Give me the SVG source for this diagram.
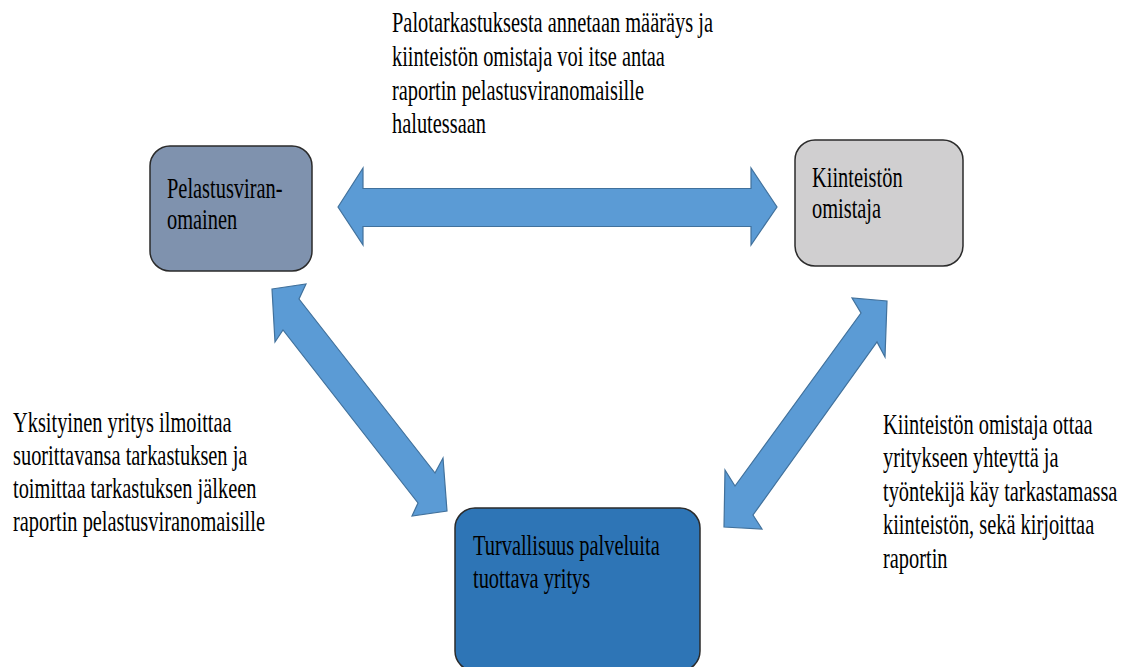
<svg xmlns="http://www.w3.org/2000/svg" width="1134" height="667" viewBox="0 0 1134 667">
<style>
.t{font-family:"Liberation Serif","Times New Roman",serif;font-size:20.4px;fill:#000}
.arrow{fill:#5b9bd5;stroke:#41719c;stroke-width:1.2;stroke-linejoin:miter}
.box{stroke:#2b2b2b;stroke-width:1.5}
</style>
<rect width="1134" height="667" fill="#fff"/>
<g id="connectors">
<polygon class="arrow" points="338,207 363,168 363,188.5 751,188.5 751,168 777,207 751,245 751,226.5 363,226.5 363,245"/>
<polygon class="arrow" points="272,289 306,284 299,299 435,473 443,458 447,511 412,516 418,503 283,330 275,342"/>
<polygon class="arrow" points="887,301 885,357 877,342 753,515 762,529 724,527 725,470 735,486 861,313 852,298"/>
</g>
<g id="label-top">
<text class="t" transform="translate(392,32.3) scale(1,1.45)"><tspan x="0" y="0">Palotarkastuksesta annetaan määräys ja</tspan><tspan x="0" y="23.24">kiinteistön omistaja voi itse antaa</tspan><tspan x="0" y="46.48">raportin pelastusviranomaisille</tspan><tspan x="0" y="69.72">halutessaan</tspan></text>
</g>
<g id="label-left">
<text class="t" transform="translate(13,431.7) scale(1,1.45)"><tspan x="0" y="0">Yksityinen yritys ilmoittaa</tspan><tspan x="0" y="22.76">suorittavansa tarkastuksen ja</tspan><tspan x="0" y="45.52">toimittaa tarkastuksen jälkeen</tspan><tspan x="0" y="68.28">raportin pelastusviranomaisille</tspan></text>
</g>
<g id="label-right">
<text class="t" transform="translate(883,434) scale(1,1.45)"><tspan x="0" y="0">Kiinteistön omistaja ottaa</tspan><tspan x="0" y="23.1">yritykseen yhteyttä ja</tspan><tspan x="0" y="46.2">työntekijä käy tarkastamassa</tspan><tspan x="0" y="69.3">kiinteistön, sekä kirjoittaa</tspan><tspan x="0" y="92.4">raportin</tspan></text>
</g>
<g id="node-pelastus">
<rect class="box" x="150" y="146" width="162" height="125" rx="20" ry="20" fill="#7f92ae"/>
<text class="t" transform="translate(167,198) scale(1,1.45)"><tspan x="0" y="0">Pelastusviran-</tspan><tspan x="0" y="21.4">omainen</tspan></text>
</g>
<g id="node-kiinteisto">
<rect class="box" x="795" y="140" width="168" height="126" rx="20" ry="20" fill="#d0cfd0"/>
<text class="t" transform="translate(812,187) scale(1,1.45)"><tspan x="0" y="0">Kiinteistön</tspan><tspan x="0" y="21.4">omistaja</tspan></text>
</g>
<g id="node-yritys">
<rect class="box" x="455" y="508" width="245" height="163" rx="20" ry="20" fill="#2e75b6"/>
<text class="t" transform="translate(473,555) scale(1,1.45)"><tspan x="0" y="0">Turvallisuus palveluita</tspan><tspan x="0" y="22.76">tuottava yritys</tspan></text>
</g>
</svg>
